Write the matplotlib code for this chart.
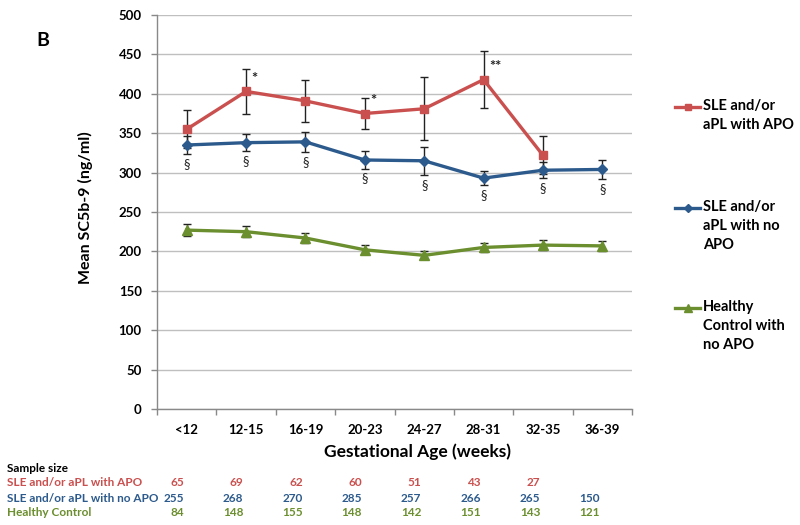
import matplotlib
matplotlib.use('Agg')
import matplotlib.pyplot as plt
from matplotlib.lines import Line2D
import matplotlib.transforms as mtransforms
from matplotlib.ticker import FixedLocator, NullFormatter, FixedFormatter

plt.rcParams['font.family'] = ['Lato', 'DejaVu Sans']

categories = ['<12', '12-15', '16-19', '20-23', '24-27', '28-31', '32-35', '36-39']
apo_mean = [355, 403, 391, 375, 381, 418, 322]
apo_err = [24, 28, 27, 20, 40, 36, 24]
noapo_mean = [335, 338, 339, 316, 315, 293, 303, 304]
noapo_err = [12, 11, 13, 11, 18, 9, 10, 12]
hc_mean = [227, 225, 217, 202, 195, 205, 208, 207]
hc_err = [8, 7, 6.5, 5.5, 5, 6, 6, 6.5]
apo_sig = ['', '*', '', '*', '', '**', '']
noapo_sig = ['§', '§', '§', '§', '§', '§', '§', '§']
series_labels = ['SLE and/or\naPL with APO', 'SLE and/or\naPL with no\nAPO',
                 'Healthy\nControl with\nno APO']
table_title = 'Sample size'
table_labels = ['SLE and/or aPL with APO', 'SLE and/or aPL with no APO', 'Healthy Control']
n_apo = [65, 69, 62, 60, 51, 43, 27]
n_noapo = [255, 268, 270, 285, 257, 266, 265, 150]
n_hc = [84, 148, 155, 148, 142, 151, 143, 121]
yticks = [0, 50, 100, 150, 200, 250, 300, 350, 400, 450, 500]

RED = '#C9504E'
BLUE = '#2C5A8C'
GREEN = '#6B8E2E'
colors = [RED, BLUE, GREEN]
markers = ['s', 'D', '^']
msizes = [5.5, 5.5, 6.5]

W, H = 800, 525
fig = plt.figure(figsize=(8, 5.25), dpi=100)
ax = fig.add_axes([157 / W, 1 - 409 / H, (632 - 157) / W, (409 - 15) / H])

x_apo = list(range(len(apo_mean)))
x_all = list(range(len(categories)))
series = [(x_apo, apo_mean, apo_err), (x_all, noapo_mean, noapo_err), (x_all, hc_mean, hc_err)]

for (xs, m, e), c, mk, ms in zip(series, colors, markers, msizes):
    ax.errorbar(xs, m, yerr=e, fmt='none', ecolor='#222222', elinewidth=1.0,
                capsize=2.7, capthick=1.0, zorder=3)
    ax.plot(xs, m, color=c, lw=2.4, marker=mk, markersize=ms, markerfacecolor=c,
            markeredgecolor=c, zorder=4)

# significance marks
for xi, m, s in zip(x_apo, apo_mean, apo_sig):
    if s:
        ax.annotate(s, (xi, m), xytext=(4, 9), textcoords='offset points',
                    ha='left', va='center', fontsize=10.5, fontweight='bold', color='#222222')
for xi, m, e, s in zip(x_all, noapo_mean, noapo_err, noapo_sig):
    ax.annotate(s, (xi, m - e), xytext=(0, -7), textcoords='offset points',
                ha='center', va='center', fontsize=9.5, color='#222222')

ax.set_xlim(-0.5, len(categories) - 0.5)
ax.set_ylim(0, 500)
ax.set_yticks(yticks)
ax.set_yticklabels([str(v) for v in yticks])
ax.yaxis.grid(True, color='#BFBFBF', lw=1.0)
ax.set_axisbelow(True)
ax.tick_params(axis='y', length=4, width=1, color='#898989', pad=7, labelsize=9.5)
for lab in ax.get_yticklabels():
    lab.set_fontweight('bold')

ax.xaxis.set_major_locator(FixedLocator([i - 0.5 for i in range(len(categories) + 1)]))
ax.xaxis.set_major_formatter(NullFormatter())
ax.xaxis.set_minor_locator(FixedLocator(x_all))
ax.xaxis.set_minor_formatter(FixedFormatter(categories))
ax.tick_params(axis='x', which='major', length=4, width=1, color='#898989')
ax.tick_params(axis='x', which='minor', length=0, pad=11, labelsize=9.5)
for lab in ax.xaxis.get_minorticklabels():
    lab.set_fontweight('bold')

for s in ['top', 'right']:
    ax.spines[s].set_visible(False)
for s in ['left', 'bottom']:
    ax.spines[s].set_color('#898989')
    ax.spines[s].set_linewidth(1.0)

fig.text(85 / W, 1 - 208 / H, 'Mean SC5b-9 (ng/ml)', rotation=90, ha='center', va='center',
         fontsize=11.5, fontweight='bold')
fig.text(418 / W, 1 - 452 / H, 'Gestational Age (weeks)', ha='center', va='center',
         fontsize=12.5, fontweight='bold')
fig.text(36 / W, 1 - 40 / H, 'B', ha='left', va='center', fontsize=14, fontweight='bold')

# legend (manual)
leg_y = [107, 208, 308]
for lab, c, mk, ms, yy in zip(series_labels, colors, markers, msizes, leg_y):
    fig.add_artist(Line2D([675 / W, 700 / W], [1 - yy / H, 1 - yy / H], color=c, lw=2.4,
                          transform=fig.transFigure))
    fig.add_artist(Line2D([687.5 / W], [1 - yy / H], color=c, marker=mk, markersize=ms - 1,
                          transform=fig.transFigure))
    fig.text(703 / W, 1 - (yy - 8) / H, lab, ha='left', va='top', fontsize=10.5,
             fontweight='bold', linespacing=1.45)

# sample size table
fig.text(7 / W, 1 - 468 / H, table_title, ha='left', va='center', fontsize=8.5,
         fontweight='bold', color='black')
row_y = [482, 498, 513]
blend = mtransforms.blended_transform_factory(ax.transData, fig.transFigure)
for lab, vals, c, yy in zip(table_labels, [n_apo, n_noapo, n_hc], colors, row_y):
    fig.text(7 / W, 1 - yy / H, lab, ha='left', va='center', fontsize=8.5,
             fontweight='bold', color=c)
    for xi, v in enumerate(vals):
        ax.annotate(str(v), (xi, 1 - yy / H), xycoords=blend, xytext=(-2, 0),
                    textcoords='offset points', ha='right', va='center', fontsize=8.5,
                    fontweight='bold', color=c, annotation_clip=False)

fig.savefig('out.png', dpi=100)
